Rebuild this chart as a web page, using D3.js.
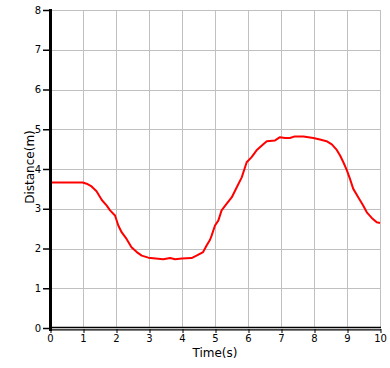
<!DOCTYPE html>
<html>
<head>
<meta charset="utf-8">
<script src="https://cdn.jsdelivr.net/npm/d3@7/dist/d3.min.js"></script>
<style>
  html, body { margin: 0; padding: 0; background: #fff; }
  svg { display: block; }
  text { font-family: "DejaVu Sans", sans-serif; fill: #000; }
</style>
</head>
<body>
<svg id="chart" width="390" height="368"></svg>
<script>
const xTicks = [0,1,2,3,4,5,6,7,8,9,10];
const yTicks = [0,1,2,3,4,5,6,7,8];
const xLabel = "Time(s)";
const yLabel = "Distance(m)";
const times = [0, 0.5, 0.99, 1.11, 1.26, 1.41, 1.57, 1.72, 1.82, 1.97, 2.07, 2.17, 2.32, 2.47, 2.63, 2.78, 2.98,
  3.2, 3.43, 3.64, 3.79, 4.0, 4.29, 4.44, 4.64, 4.75, 4.85, 4.90, 5.0, 5.10, 5.20, 5.35, 5.51, 5.66, 5.81,
  5.96, 6.11, 6.26, 6.42, 6.57, 6.82, 6.97, 7.12, 7.27, 7.42, 7.68, 7.98, 8.18, 8.38, 8.54, 8.69, 8.79,
  8.89, 9.0, 9.09, 9.19, 9.34, 9.49, 9.60, 9.75, 9.90, 10.0];
const distances = [3.66, 3.66, 3.66, 3.63, 3.56, 3.44, 3.22, 3.08, 2.96, 2.83, 2.58, 2.41, 2.24, 2.03, 1.91, 1.82, 1.77,
  1.75, 1.73, 1.76, 1.73, 1.75, 1.76, 1.82, 1.91, 2.08, 2.22, 2.33, 2.58, 2.70, 2.96, 3.12, 3.29, 3.54, 3.79,
  4.17, 4.30, 4.47, 4.59, 4.70, 4.72, 4.80, 4.78, 4.78, 4.82, 4.82, 4.78, 4.74, 4.70, 4.62, 4.48, 4.34,
  4.17, 3.96, 3.75, 3.50, 3.29, 3.08, 2.91, 2.77, 2.66, 2.64];

const svg = d3.select("#chart");
const x = d3.scaleLinear().domain([0, 10]).range([50, 380]);
const y = d3.scaleLinear().domain([0, 8]).range([328, 10]);
const px = v => Math.round(x(v)) + 0.5;
const py = v => Math.round(y(v)) + 0.5;

// grid
const grid = svg.append("g").attr("stroke", "#c0c0c0").attr("stroke-width", 1).attr("shape-rendering", "crispEdges");
xTicks.filter(d => d > 0).forEach(d => {
  grid.append("line").attr("x1", px(d)).attr("x2", px(d)).attr("y1", y(8)).attr("y2", y(0));
});
yTicks.filter(d => d > 0).forEach(d => {
  grid.append("line").attr("x1", x(0)).attr("x2", x(10) + 1).attr("y1", py(d)).attr("y2", py(d));
});

// data line
const line = d3.line().x((d, i) => x(times[i])).y(d => y(d));
svg.append("path").datum(distances)
  .attr("d", line)
  .attr("fill", "none")
  .attr("stroke", "#ff0000")
  .attr("stroke-width", 2)
  .attr("stroke-linejoin", "round");

// x axis
const xAxis = d3.axisBottom(x).tickValues(xTicks).tickSize(4).tickPadding(2).tickFormat(d3.format("d"));
const gx = svg.append("g").attr("transform", "translate(0,329)").call(xAxis);
gx.select(".domain").remove();
gx.selectAll(".tick line").attr("stroke", "#000").attr("transform", "translate(0.5,0)");
gx.selectAll(".tick text").attr("font-size", 10).attr("font-family", "DejaVu Sans, sans-serif");
svg.append("line").attr("x1", x(0)).attr("x2", x(10) + 1).attr("y1", 327.5).attr("y2", 327.5)
  .attr("stroke", "#000").attr("stroke-width", 1.5);
svg.append("line").attr("x1", x(0)).attr("x2", x(10) + 1).attr("y1", 329.8).attr("y2", 329.8)
  .attr("stroke", "#000").attr("stroke-width", 1.2);

// y axis
const yAxis = d3.axisLeft(y).tickValues(yTicks).tickSize(6).tickPadding(2).tickFormat(d3.format("d"));
const gy = svg.append("g").attr("transform", "translate(49,0)").call(yAxis);
gy.select(".domain").remove();
gy.selectAll(".tick line").attr("stroke", "#000").attr("stroke-width", 1.5);
gy.selectAll(".tick text").attr("font-size", 10).attr("font-family", "DejaVu Sans, sans-serif");
svg.append("line").attr("x1", 50.5).attr("x2", 50.5).attr("y1", y(8) - 1).attr("y2", 331)
  .attr("stroke", "#000").attr("stroke-width", 3);

// axis labels
svg.append("text").attr("x", 215).attr("y", 357).attr("text-anchor", "middle")
  .attr("font-size", 12).text(xLabel);
svg.append("text").attr("transform", "translate(34,167) rotate(-90)")
  .attr("text-anchor", "middle").attr("font-size", 12).text(yLabel);
</script>
</body>
</html>
